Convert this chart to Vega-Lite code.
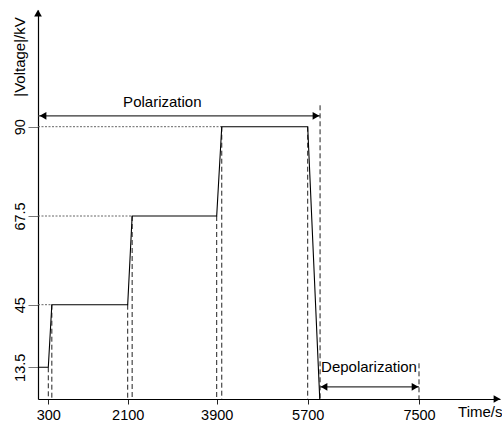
{
  "$schema": "https://vega.github.io/schema/vega-lite/v6.json",
  "width": 462,
  "height": 389,
  "autosize": {"type": "none"},
  "padding": {"left": 38, "top": 10, "right": 2, "bottom": 23},
  "background": "white",
  "config": {
    "view": {"stroke": null},
    "font": "Liberation Sans",
    "axis": {"grid": false, "labelFont": "Liberation Sans", "titleFont": "Liberation Sans", "labelColor": "black", "titleColor": "black", "labelFontSize": 14.5, "titleFontSize": 15, "titleFontWeight": "normal", "domainColor": "black", "domainWidth": 1.2}
  },
  "datasets": {
    "voltage": [
      {"t": 0, "v": 13.5},
      {"t": 300, "v": 13.5},
      {"t": 380, "v": 45},
      {"t": 2100, "v": 45},
      {"t": 2190, "v": 67.5},
      {"t": 3900, "v": 67.5},
      {"t": 4000, "v": 90},
      {"t": 5700, "v": 90},
      {"t": 5895, "v": 0}
    ],
    "guides": [
      {"t": 0, "t2": 4000, "v": 90},
      {"t": 0, "t2": 2190, "v": 67.5},
      {"t": 0, "t2": 380, "v": 45}
    ],
    "dashes": [
      {"t": 300, "v": 13.5, "v2": 0},
      {"t": 380, "v": 45, "v2": 0},
      {"t": 2100, "v": 45, "v2": 0},
      {"t": 2190, "v": 67.5, "v2": 0},
      {"t": 3900, "v": 67.5, "v2": 0},
      {"t": 4000, "v": 90, "v2": 0},
      {"t": 5700, "v": 90, "v2": 0},
      {"t": 5900, "v": 95.5, "v2": 0},
      {"t": 7500, "v": 15.5, "v2": 0}
    ],
    "arrows": [
      {"t": 0, "t2": 5900, "v": 92.8},
      {"t": 5900, "t2": 7500, "v": 5.2}
    ],
    "heads": [
      {"t": 146, "v": 92.8, "shape": "triangle-left"},
      {"t": 5834, "v": 92.8, "shape": "triangle-right"},
      {"t": 5964, "v": 5.2, "shape": "triangle-left"},
      {"t": 7436, "v": 5.2, "shape": "triangle-right"},
      {"t": 0, "v": 119.2, "shape": "triangle-up"},
      {"t": 8752, "v": 0, "shape": "triangle-right"}
    ]
  },
  "encoding": {
    "x": {"field": "t", "type": "quantitative"},
    "y": {"field": "v", "type": "quantitative"}
  },
  "layer": [
    {
      "data": {"name": "guides"},
      "mark": {"type": "rule", "color": "#666", "strokeDash": [2, 1.5], "strokeWidth": 1},
      "encoding": {
        "x": {"field": "t", "type": "quantitative",
          "scale": {"domain": [0, 300, 2100, 3900, 5700, 7500, 8800], "range": [0, 10.3, 89.7, 178.7, 269.7, 381, 462], "zero": false, "nice": false},
          "axis": {"values": [300, 2100, 3900, 5700, 7500], "format": "d", "tickSize": 8, "tickDash": [5, 3], "tickColor": "#222", "labelPadding": 1, "title": "Time/s", "titleAnchor": "end", "titleAlign": "right", "titleBaseline": "top", "titleX": 464, "titleY": 5}},
        "x2": {"field": "t2"},
        "y": {"field": "v", "type": "quantitative",
          "scale": {"domain": [0, 13.5, 45, 67.5, 90, 120], "range": [389, 357.3, 294.7, 206, 116.7, 0], "zero": false, "nice": false},
          "axis": {"values": [13.5, 45, 67.5, 90], "format": ".1~f", "tickSize": 10, "tickColor": "#777", "labelAngle": 270, "labelAlign": "center", "labelBaseline": "bottom", "labelPadding": 1, "title": "|Voltage|/kV", "titleAngle": 270, "titleAlign": "center", "titleBaseline": "alphabetic", "titleX": -13.5, "titleY": 46.5}}
      }
    },
    {
      "data": {"name": "dashes"},
      "mark": {"type": "rule", "color": "#222", "strokeDash": [5, 3], "strokeWidth": 1},
      "encoding": {"y2": {"field": "v2"}}
    },
    {
      "data": {"name": "voltage"},
      "mark": {"type": "line", "color": "black", "strokeWidth": 1.1},
      "encoding": {"order": {"field": "t", "type": "quantitative"}}
    },
    {
      "data": {"name": "arrows"},
      "mark": {"type": "rule", "color": "#333", "strokeWidth": 1.3},
      "encoding": {"x2": {"field": "t2"}}
    },
    {
      "data": {"name": "heads"},
      "mark": {"type": "point", "filled": true, "color": "black", "size": 60, "opacity": 1},
      "encoding": {"shape": {"field": "shape", "type": "nominal", "scale": null}}
    },
    {
      "data": {"values": [{"t": 2800, "v": 95.1, "text": "Polarization"}]},
      "mark": {"type": "text", "fontSize": 15, "color": "black", "baseline": "alphabetic", "align": "center", "font": "Liberation Sans"},
      "encoding": {"text": {"field": "text"}}
    },
    {
      "data": {"values": [{"t": 5900, "v": 11.6, "text": "Depolarization"}]},
      "mark": {"type": "text", "fontSize": 15, "color": "black", "baseline": "alphabetic", "align": "left", "dx": 1, "font": "Liberation Sans"},
      "encoding": {"text": {"field": "text"}}
    }
  ]
}
